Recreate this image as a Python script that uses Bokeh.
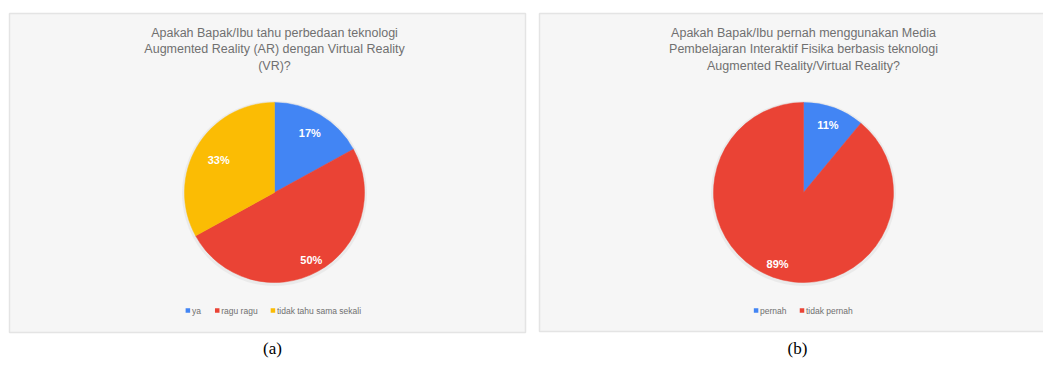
import numpy as np
from bokeh.plotting import figure
from bokeh.models import Range1d
from bokeh.core.properties import value
from bokeh.embed import file_html
from bokeh.resources import INLINE

# ---- data ----
title_a = ["Apakah Bapak/Ibu tahu perbedaan teknologi",
           "Augmented Reality (AR) dengan Virtual Reality",
           "(VR)?"]
labels_a = ["ya", "ragu ragu", "tidak tahu sama sekali"]
values_a = [17, 50, 33]
title_b = ["Apakah Bapak/Ibu pernah menggunakan Media",
           "Pembelajaran Interaktif Fisika berbasis teknologi",
           "Augmented Reality/Virtual Reality?"]
labels_b = ["pernah", "tidak pernah"]
values_b = [11, 89]
captions = ["(a)", "(b)"]

colors_a = ["#4285f4", "#ea4335", "#fbbc04"]
colors_b = ["#4285f4", "#ea4335"]

W, H = 1043, 367
p = figure(width=W, height=H, output_backend="svg", toolbar_location=None,
           x_range=Range1d(0, W), y_range=Range1d(0, H), min_border=0)
p.axis.visible = False
p.grid.visible = False
p.outline_line_color = None
p.background_fill_color = "white"
p.border_fill_color = "white"

def Y(y):
    return H - y

FONT = value("Liberation Sans")

# approximate Arial character widths (em)
NARROW = set("iljtfr ")
def text_w(s, size):
    w = 0
    for ch in s:
        if ch in "ijl":
            w += 0.22
        elif ch in "tfr ":
            w += 0.3
        elif ch in "m":
            w += 0.83
        else:
            w += 0.55
    return w * size

def panel(x0, x1, y0, y1, cx, cy, r, title, labels, vals, colors, lab_r, legend_y, caption_x, caption):
    # panel background
    p.quad(left=x0, right=x1, top=Y(y0), bottom=Y(y1), fill_color="#f6f6f6",
           line_color="#e4e4e4", line_width=1.5)
    # title
    for i, t in enumerate(title):
        p.text(x=[cx], y=[Y(32 + i * 16.5)], text=[t], text_font=FONT, text_font_size="12.5px",
               text_color="#707070", text_align="center", text_baseline="middle")
    # soft shadow
    p.circle(x=[cx], y=[Y(cy) - 1], radius=r + 2.5, fill_color="#e2e2e2", fill_alpha=0.6, line_color=None)
    total = float(sum(vals))
    cum = np.concatenate([[0], np.cumsum(vals)]) / total
    starts = np.pi / 2 - 2 * np.pi * cum[1:]
    ends = np.pi / 2 - 2 * np.pi * cum[:-1]
    p.wedge(x=[cx] * len(vals), y=[Y(cy)] * len(vals), radius=r, start_angle=list(starts),
            end_angle=list(ends), fill_color=colors, line_color=colors, line_width=0.5)
    mids = (starts + ends) / 2
    lx = cx + np.array(lab_r) * r * np.cos(mids)
    ly = Y(cy) + np.array(lab_r) * r * np.sin(mids)
    txt = ["%d%%" % round(v / total * 100) for v in vals]
    p.text(x=list(lx), y=list(ly), text=txt, text_font=FONT, text_font_size="11px",
           text_font_style="bold", text_color="white", text_align="center", text_baseline="middle")
    # legend
    fs = 8.5
    widths = [text_w(s, fs) for s in labels]
    gap = 13
    total_w = sum(w + 7 for w in widths) + gap * (len(labels) - 1)
    x = cx - total_w / 2
    for s, w, c in zip(labels, widths, colors):
        p.scatter(x=[x + 2.5], y=[Y(legend_y)], marker="square", size=4.5, fill_color=c, line_color=None)
        p.text(x=[x + 6.5], y=[Y(legend_y)], text=[s], text_font=FONT, text_font_size="%.1fpx" % fs,
               text_color="#707070", text_align="left", text_baseline="middle")
        x += w + 7 + gap
    # caption
    p.text(x=[caption_x], y=[Y(348)], text=[caption], text_font=value("Liberation Serif"),
           text_font_size="17px", text_color="black", text_align="center", text_baseline="middle")

panel(9, 525, 13, 332, 274, 192, 90, title_a, labels_a, values_a, colors_a, [0.77, 0.85, 0.72], 310, 272, captions[0])
panel(539, 1045, 13, 331, 803, 192, 90, title_b, labels_b, values_b, colors_b, [0.8, 0.85], 310, 797, captions[1])

open("out.html", "w").write(file_html(p, INLINE))
